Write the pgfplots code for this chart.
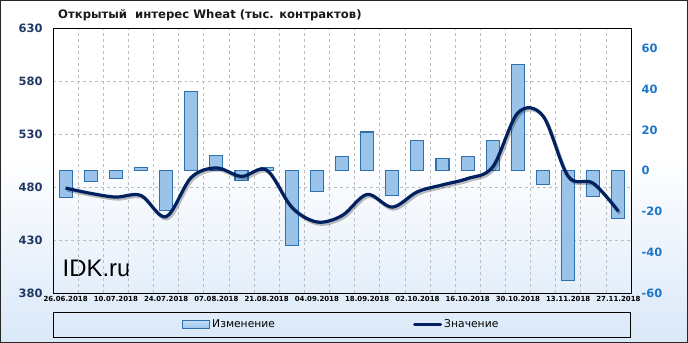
\documentclass[border=0pt]{standalone}
\usepackage{pgfplots}
\pgfplotsset{compat=1.18}
\usepackage{fontspec}
\setmainfont{DejaVu Sans}
\newfontfamily\arialf{Liberation Sans}
\definecolor{navy}{HTML}{1F3864}
\definecolor{rblue}{HTML}{1C75C8}
\definecolor{linec}{HTML}{002060}
\definecolor{barlight}{HTML}{C4E0F7}
\definecolor{bardark}{HTML}{9AC3EA}
\definecolor{bardraw}{HTML}{2F70AD}
\definecolor{bgbot}{HTML}{DAE8F8}
\definecolor{gridc}{HTML}{BDBDBD}

\pgfplotstableread{
x chg val
0 -13 479
1 -5.2 474
2 -3.7 470.5
3 1.5 472
4 -19.5 452
5 39 489
6 7.3 498
7 -5 490
8 1.5 496
9 -36.5 461
10 -10 447
11 7 453
12 19 473
13 -12 461
14 15 475.5
15 6 482
16 7 488
17 15 499
18 52.3 550
19 -6.8 547
20 -54 490
21 -12.7 483.5
22 -23.5 457
}\datatab

\begin{document}
\begin{tikzpicture}
\fill[white] (0bp,0bp) rectangle (688bp,343bp);
\shade[top color=white, bottom color=bgbot] (0bp,0bp) rectangle (688bp,190bp);
\draw[black!85, line width=1bp] (0.5bp,0.5bp) rectangle (687.5bp,342.5bp);
\node[anchor=west, font=\bfseries\fontsize{11.7}{13}\selectfont, text=black!90, inner sep=0] at (58bp,328bp) {Открытый\ \ интерес Wheat (тыс. контрактов)};
\draw[black, line width=0.8bp] (53bp,6bp) rectangle (630bp,31bp);
\node[anchor=base west, font=\arialf\fontsize{24}{26}\selectfont, inner sep=0] at (62.5bp,66bp) {IDK.ru};

% axis A: left scale, grid, date labels
\begin{axis}[at={(53bp,50bp)}, anchor=south west, scale only axis,
  width=578bp, height=265bp,
  xmin=-0.5, xmax=22.5, ymin=380, ymax=630,
  ytick={380,430,...,630},
  xtick={0,2,...,22},
  xticklabels={26.06.2018,10.07.2018,24.07.2018,07.08.2018,21.08.2018,04.09.2018,18.09.2018,02.10.2018,16.10.2018,30.10.2018,13.11.2018,27.11.2018},
  minor xtick={0.5,1.5,...,21.5},
  xminorgrids, ymajorgrids,
  major grid style={gridc, dashed, line width=0.6bp},
  minor grid style={gridc, dashed, line width=0.6bp},
  major tick length=0, minor tick length=0,
  axis line style={black, line width=0.8bp},
  yticklabel style={font=\bfseries\fontsize{11.5}{12}\selectfont, text=navy, xshift=-7bp},
  xticklabel style={font=\bfseries\fontsize{7}{8}\selectfont, text=black},
  /pgf/number format/assume math mode=true,
]
\addplot[draw=none, forget plot] coordinates {(0,500)};
\end{axis}

% axis B: bars, right scale
\begin{axis}[at={(53bp,50bp)}, anchor=south west, scale only axis,
  width=578bp, height=265bp,
  xmin=-0.5, xmax=22.5, ymin=-60, ymax=70,
  axis y line*=right, axis x line=none,
  ytick={-60,-40,...,60},
  major tick length=0,
  axis line style={black, line width=0.8bp},
  yticklabel style={font=\bfseries\fontsize{11.5}{12}\selectfont, text=rblue, xshift=7bp},
  /pgf/number format/assume math mode=true,
  ybar, bar width=13bp,
]
\addplot[draw=bardraw, line width=1.1bp, left color=bardark, middle color=barlight, right color=bardark] table[x=x, y=chg] {\datatab};
\end{axis}

% axis C: line
\begin{axis}[at={(53bp,50bp)}, anchor=south west, scale only axis,
  width=578bp, height=265bp,
  xmin=-0.5, xmax=22.5, ymin=380, ymax=630,
  hide axis, clip=false,
  legend columns=2,
  legend style={at={(0.499,-0.119)}, anchor=center, draw=none, fill=none,
    font=\fontsize{10.8}{12}\selectfont,
    /tikz/every even column/.append style={column sep=136bp}},
]
\addlegendimage{legend image code/.code={\draw[draw=bardraw, line width=0.8bp, top color=barlight, bottom color=bardark] (0bp,-4bp) rectangle (27bp,4bp);}}
\addlegendentry{Изменение}
\addplot[black, opacity=0.25, line width=3.2bp, smooth, tension=0.55, xshift=1.5bp, yshift=-2bp, forget plot] table[x=x, y=val] {\datatab};
\addplot[linec, line width=3.2bp, smooth, tension=0.55, legend image code/.code={\draw[linec, line width=3.2bp, line cap=round] (1bp,0bp) -- (27bp,0bp);}] table[x=x, y=val] {\datatab};
\addlegendentry{Значение}
\end{axis}
\end{tikzpicture}
\end{document}
